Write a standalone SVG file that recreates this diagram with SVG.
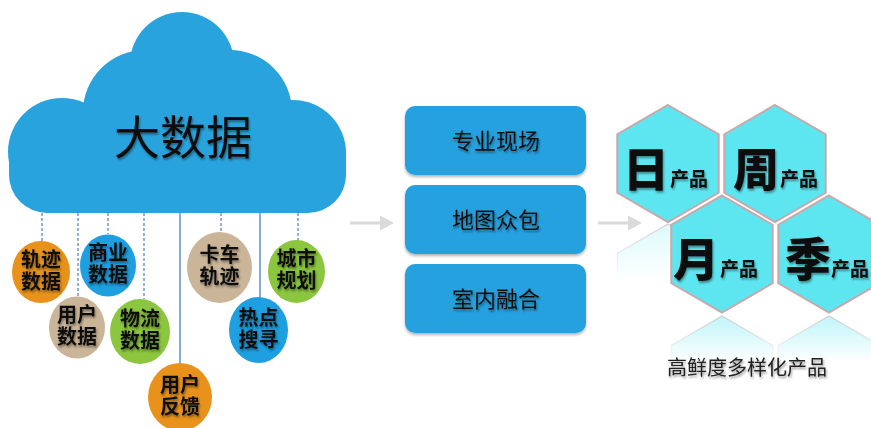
<svg xmlns="http://www.w3.org/2000/svg" width="871" height="428" viewBox="0 0 871 428">
<defs>
<style>
.cjk{font-family:"Noto Sans CJK SC","Noto Sans CJK JP",sans-serif;}
.lbl{font-size:20px;font-weight:bold;fill:#111;text-anchor:middle;filter:url(#ts);}
.box{fill:#25a1df;filter:url(#bs);}
.btx{font-size:22px;fill:#111;text-anchor:middle;filter:url(#ts);}
.dash{stroke:#5f87c3;stroke-width:1.3;stroke-dasharray:3,2;fill:none;}
.sol{stroke:#4a7fd0;stroke-width:1.3;fill:none;}
.hex{fill:#5ee6f0;stroke:#c8a8aa;stroke-width:2;}
.big{font-size:46px;font-weight:900;fill:#111;}
.sm{font-size:19px;font-weight:bold;fill:#111;}
.arr{fill:#dadada;}
</style>
<filter id="ts" x="-20%" y="-20%" width="140%" height="160%">
<feDropShadow dx="1" dy="2" stdDeviation="1.3" flood-color="#000" flood-opacity="0.4"/>
</filter>
<filter id="bs" x="-10%" y="-10%" width="120%" height="130%">
<feDropShadow dx="0" dy="2" stdDeviation="1.5" flood-color="#000" flood-opacity="0.3"/>
</filter>
<polygon id="hx" points="0,-58.5 50.7,-29.25 50.7,29.25 0,58.5 -50.7,29.25 -50.7,-29.25"/>
<linearGradient id="rf" x1="0" y1="0" x2="0" y2="1">
<stop offset="0" stop-color="#5ee6f0" stop-opacity="0.4"/>
<stop offset="1" stop-color="#5ee6f0" stop-opacity="0"/>
</linearGradient>
<linearGradient id="rf2" x1="0" y1="0" x2="0" y2="1">
<stop offset="0" stop-color="#5ee6f0" stop-opacity="0.22"/>
<stop offset="1" stop-color="#5ee6f0" stop-opacity="0"/>
</linearGradient>
<linearGradient id="rs" x1="0" y1="0" x2="0" y2="1">
<stop offset="0" stop-color="#c8a8aa" stop-opacity="0.55"/>
<stop offset="1" stop-color="#c8a8aa" stop-opacity="0"/>
</linearGradient>
</defs>

<g id="cloud">
<g fill="#29a3dd">
<circle cx="62" cy="152" r="54"/>
<circle cx="145" cy="112" r="62"/>
<circle cx="182" cy="64" r="52"/>
<circle cx="230" cy="112" r="62"/>
<circle cx="293" cy="153" r="53"/>
<rect x="9" y="120" width="337" height="93" rx="38"/>
</g>
<text class="cjk" x="183" y="154" font-size="46" fill="#111" text-anchor="middle" filter="url(#ts)">大数据</text>
</g>

<g id="connectors">
<line class="dash" x1="42" y1="213" x2="42" y2="241"/>
<line class="dash" x1="78" y1="213" x2="78" y2="298"/>
<line class="dash" x1="108" y1="213" x2="108" y2="234"/>
<line class="dash" x1="144" y1="213" x2="144" y2="299"/>
<line class="sol" x1="180" y1="213" x2="180" y2="364"/>
<line class="dash" x1="221" y1="213" x2="221" y2="233"/>
<line class="sol" x1="260" y1="213" x2="260" y2="298"/>
<line class="dash" x1="298" y1="213" x2="298" y2="241"/>
<g id="arrow1">
<rect class="arr" x="350" y="221.5" width="32" height="3"/>
<polygon class="arr" points="380,215.5 394,223 380,230.5"/>
</g>
<g id="arrow2">
<rect class="arr" x="598" y="221.5" width="32" height="3"/>
<polygon class="arr" points="628,215.5 642,223 628,230.5"/>
</g>
</g>

<g id="n-guiji">
<ellipse cx="41" cy="272" rx="29" ry="31" fill="#e8921c"/>
<text class="cjk lbl"><tspan x="41" y="267">轨迹</tspan><tspan x="41" y="289">数据</tspan></text>
</g>
<g id="n-shangye">
<ellipse cx="108" cy="265.5" rx="28" ry="31" fill="#1d9fe0"/>
<text class="cjk lbl"><tspan x="108" y="260">商业</tspan><tspan x="108" y="282">数据</tspan></text>
</g>
<g id="n-yonghu">
<ellipse cx="77" cy="327.5" rx="28" ry="31" fill="#cbb598"/>
<text class="cjk lbl"><tspan x="77" y="322">用户</tspan><tspan x="77" y="344">数据</tspan></text>
</g>
<g id="n-wuliu">
<ellipse cx="140" cy="331.5" rx="30" ry="32.5" fill="#8cc63e"/>
<text class="cjk lbl"><tspan x="140" y="326">物流</tspan><tspan x="140" y="348">数据</tspan></text>
</g>
<g id="n-fankui">
<ellipse cx="180" cy="397" rx="32" ry="34" fill="#e8921c"/>
<text class="cjk lbl"><tspan x="180" y="392">用户</tspan><tspan x="180" y="414">反馈</tspan></text>
</g>
<g id="n-kache">
<ellipse cx="219.5" cy="267.5" rx="32.5" ry="35.5" fill="#cbb598"/>
<text class="cjk lbl"><tspan x="219.5" y="262">卡车</tspan><tspan x="219.5" y="284">轨迹</tspan></text>
</g>
<g id="n-chengshi">
<ellipse cx="296.5" cy="271.5" rx="28.5" ry="31.5" fill="#8cc63e"/>
<text class="cjk lbl"><tspan x="296.5" y="266">城市</tspan><tspan x="296.5" y="288">规划</tspan></text>
</g>
<g id="n-redian">
<ellipse cx="258.5" cy="330" rx="29.5" ry="33" fill="#1d9fe0"/>
<text class="cjk lbl"><tspan x="258.5" y="325">热点</tspan><tspan x="258.5" y="347">搜寻</tspan></text>
</g>

<g id="b-zhuanye">
<rect class="box" x="405" y="106" width="181" height="69" rx="10"/>
<text class="cjk btx" x="496" y="149">专业现场</text>
</g>
<g id="b-ditu">
<rect class="box" x="405" y="185" width="181" height="69" rx="10"/>
<text class="cjk btx" x="496" y="228">地图众包</text>
</g>
<g id="b-shinei">
<rect class="box" x="405" y="264" width="181" height="69" rx="10"/>
<text class="cjk btx" x="496" y="307">室内融合</text>
</g>

<g id="reflections">
<polygon points="668,224 718.7,253.3 718.7,280 617.3,280 617.3,253.3" fill="url(#rf2)"/>
<polyline points="617.3,280 617.3,253.3 668,224 718.7,253.3" fill="none" stroke="url(#rs)" stroke-width="1.2"/>
<polygon points="722,316 772.7,345.3 772.7,362 671.3,362 671.3,345.3" fill="url(#rf)"/>
<polyline points="671.3,362 671.3,345.3 722,316 772.7,345.3 772.7,362" fill="none" stroke="url(#rs)" stroke-width="1.2"/>
<polygon points="829,316 879.7,345.3 879.7,362 778.3,362 778.3,345.3" fill="url(#rf)"/>
<polyline points="778.3,362 778.3,345.3 829,316 879.7,345.3" fill="none" stroke="url(#rs)" stroke-width="1.2"/>
</g>

<g id="h-ri">
<use href="#hx" class="hex" x="668" y="163.5"/>
<text class="cjk" y="186" filter="url(#ts)"><tspan class="big" x="623">日</tspan><tspan class="sm" dx="1">产品</tspan></text>
</g>
<g id="h-zhou">
<use href="#hx" class="hex" x="775" y="163.5"/>
<text class="cjk" y="186" filter="url(#ts)"><tspan class="big" x="733">周</tspan><tspan class="sm" dx="1">产品</tspan></text>
</g>
<g id="h-yue">
<use href="#hx" class="hex" x="722" y="254"/>
<text class="cjk" y="276" filter="url(#ts)"><tspan class="big" x="673">月</tspan><tspan class="sm" dx="1">产品</tspan></text>
</g>
<g id="h-ji">
<use href="#hx" class="hex" x="829" y="254"/>
<text class="cjk" y="276" filter="url(#ts)"><tspan class="big" x="785">季</tspan><tspan class="sm" dx="0">产品</tspan></text>
</g>

<g id="caption">
<text class="cjk" x="747" y="375" font-size="20" fill="#222" text-anchor="middle" filter="url(#ts)">高鲜度多样化产品</text>
</g>
</svg>
